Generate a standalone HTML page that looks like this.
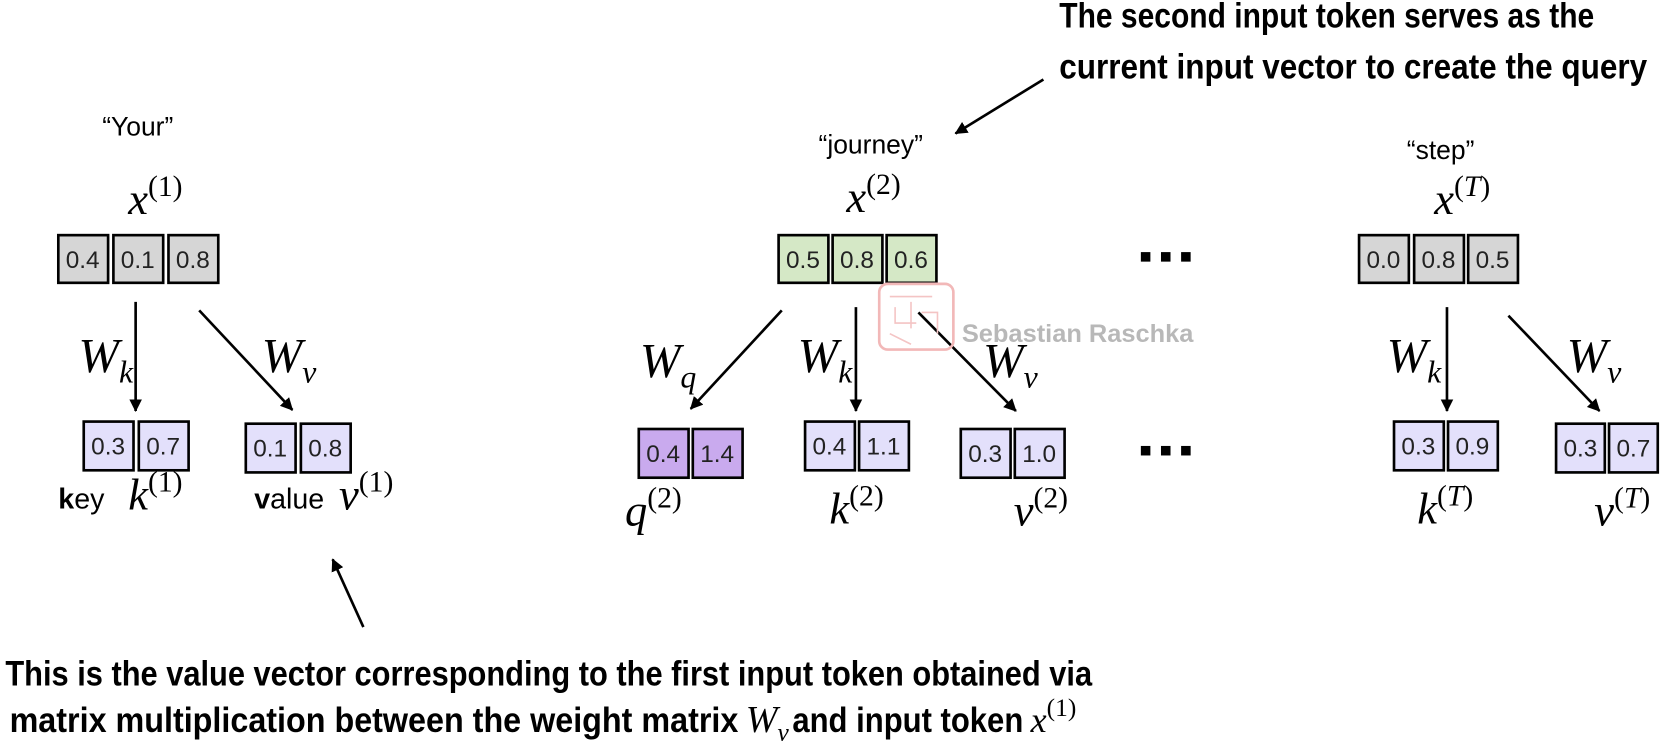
<!DOCTYPE html>
<html><head><meta charset="utf-8"><style>
html,body{margin:0;padding:0;background:#fff;width:1661px;height:751px;overflow:hidden}
svg{display:block}
.n{font-family:"Liberation Sans",sans-serif;font-size:23px;fill:#222;text-anchor:middle}
.m{font-family:"Liberation Serif",serif;font-style:italic;fill:#000}
.s{font-family:"Liberation Sans",sans-serif;font-size:25px;fill:#000;text-anchor:middle}
.b{font-family:"Liberation Sans",sans-serif;font-weight:bold;font-size:33px;fill:#000}
</style></head><body>
<svg width="1661" height="751" viewBox="0 0 1568 709" xmlns="http://www.w3.org/2000/svg">
<defs><marker id="a" markerWidth="12" markerHeight="12" refX="11" refY="6" orient="auto" markerUnits="userSpaceOnUse"><path d="M0,0 L12,6 L0,12 z" fill="#000"/></marker></defs>
<g stroke="#000" stroke-width="2.5">
<rect x="55" y="222" width="47" height="45" fill="#d6d6d6"/><rect x="107" y="222" width="47" height="45" fill="#d6d6d6"/><rect x="159" y="222" width="47" height="45" fill="#d6d6d6"/>
<rect x="735" y="222" width="47" height="45" fill="#d5e8c6"/><rect x="786" y="222" width="47" height="45" fill="#d5e8c6"/><rect x="837" y="222" width="47" height="45" fill="#d5e8c6"/>
<rect x="1283" y="222" width="47" height="45" fill="#d6d6d6"/><rect x="1335" y="222" width="47" height="45" fill="#d6d6d6"/><rect x="1386" y="222" width="47" height="45" fill="#d6d6d6"/>
<rect x="79" y="398" width="47" height="46" fill="#e3e0fb"/><rect x="131" y="398" width="47" height="46" fill="#e3e0fb"/>
<rect x="232" y="400" width="47" height="46" fill="#e3e0fb"/><rect x="284" y="400" width="47" height="46" fill="#e3e0fb"/>
<rect x="603" y="405" width="47" height="46" fill="#c9aaee"/><rect x="654" y="405" width="47" height="46" fill="#c9aaee"/>
<rect x="760" y="398" width="47" height="46" fill="#e3e0fb"/><rect x="811" y="398" width="47" height="46" fill="#e3e0fb"/>
<rect x="907" y="405" width="47" height="46" fill="#e3e0fb"/><rect x="958" y="405" width="47" height="46" fill="#e3e0fb"/>
<rect x="1316" y="398" width="47" height="46" fill="#e3e0fb"/><rect x="1367" y="398" width="47" height="46" fill="#e3e0fb"/>
<rect x="1469" y="400" width="46" height="46" fill="#e3e0fb"/><rect x="1519" y="400" width="46" height="46" fill="#e3e0fb"/>
<line x1="128" y1="285" x2="128" y2="388" marker-end="url(#a)"/>
<line x1="188" y1="293" x2="276" y2="387" marker-end="url(#a)"/>
<line x1="738" y1="293" x2="652" y2="386" marker-end="url(#a)"/>
<line x1="808" y1="290" x2="808" y2="388" marker-end="url(#a)"/>
<line x1="867" y1="295" x2="959" y2="388" marker-end="url(#a)"/>
<line x1="1366" y1="290" x2="1366" y2="388" marker-end="url(#a)"/>
<line x1="1424" y1="298" x2="1510" y2="388" marker-end="url(#a)"/>
<line x1="343" y1="592" x2="314" y2="528" marker-end="url(#a)"/>
<line x1="985" y1="75" x2="902" y2="126" marker-end="url(#a)"/>
</g>
<rect x="830" y="268" width="70" height="62" rx="8" fill="none" stroke="#f2b8b8" stroke-width="2.5"/>
<g stroke="#f4c4c4" stroke-width="1.5" fill="none"><path d="M840 280 h40 M845 290 v15 h20 M860 285 v25 M870 295 h15 v20 M840 315 l20 10"/></g>
<text x="908" y="323" font-family="Liberation Sans,sans-serif" font-weight="bold" font-size="24" fill="#b8b8b8">Sebastian Raschka</text>
<g class="n">
<text x="78" y="253">0.4</text><text x="130" y="253">0.1</text><text x="182" y="253">0.8</text>
<text x="758" y="253">0.5</text><text x="809" y="253">0.8</text><text x="860" y="253">0.6</text>
<text x="1306" y="253">0.0</text><text x="1358" y="253">0.8</text><text x="1409" y="253">0.5</text>
<text x="102" y="429">0.3</text><text x="154" y="429">0.7</text>
<text x="255" y="431">0.1</text><text x="307" y="431">0.8</text>
<text x="626" y="436">0.4</text><text x="677" y="436">1.4</text>
<text x="783" y="429">0.4</text><text x="834" y="429">1.1</text>
<text x="930" y="436">0.3</text><text x="981" y="436">1.0</text>
<text x="1339" y="429">0.3</text><text x="1390" y="429">0.9</text>
<text x="1492" y="431">0.3</text><text x="1542" y="431">0.7</text>
</g>
<g fill="#000"><rect x="1077" y="238" width="9" height="9"/><rect x="1096" y="238" width="9" height="9"/><rect x="1115" y="238" width="9" height="9"/>
<rect x="1077" y="421" width="9" height="9"/><rect x="1096" y="421" width="9" height="9"/><rect x="1115" y="421" width="9" height="9"/></g>
<text class="s" x="130" y="128">“Your”</text>
<text class="s" x="822" y="145">“journey”</text>
<text class="s" x="1360" y="150">“step”</text>
<g class="m" font-size="42">
<text x="121" y="202">x<tspan font-style="normal" font-size="28" dy="-17">(1)</tspan></text>
<text x="799" y="200">x<tspan font-style="normal" font-size="28" dy="-17">(2)</tspan></text>
<text x="1354" y="202">x<tspan font-size="28" dy="-17"><tspan font-style="normal">(</tspan>T<tspan font-style="normal">)</tspan></tspan></text>
<text x="74" y="351" font-size="46">W<tspan font-size="30" dy="10">k</tspan></text>
<text x="247" y="351" font-size="46">W<tspan font-size="30" dy="10">v</tspan></text>
<text x="604" y="356" font-size="46">W<tspan font-size="30" dy="10">q</tspan></text>
<text x="753" y="351" font-size="46">W<tspan font-size="30" dy="10">k</tspan></text>
<text x="928" y="356" font-size="46">W<tspan font-size="30" dy="10">v</tspan></text>
<text x="1309" y="351" font-size="46">W<tspan font-size="30" dy="10">k</tspan></text>
<text x="1479" y="351" font-size="46">W<tspan font-size="30" dy="10">v</tspan></text>
<text x="121" y="481">k<tspan font-style="normal" font-size="28" dy="-17">(1)</tspan></text>
<text x="320" y="481">v<tspan font-style="normal" font-size="28" dy="-17">(1)</tspan></text>
<text x="590" y="496">q<tspan font-style="normal" font-size="28" dy="-17">(2)</tspan></text>
<text x="783" y="494">k<tspan font-style="normal" font-size="28" dy="-17">(2)</tspan></text>
<text x="957" y="496">v<tspan font-style="normal" font-size="28" dy="-17">(2)</tspan></text>
<text x="1338" y="494">k<tspan font-size="28" dy="-17"><tspan font-style="normal">(</tspan>T<tspan font-style="normal">)</tspan></tspan></text>
<text x="1505" y="496">v<tspan font-size="28" dy="-17"><tspan font-style="normal">(</tspan>T<tspan font-style="normal">)</tspan></tspan></text>
</g>
<text x="55" y="480" font-family="Liberation Sans,sans-serif" font-size="27"><tspan font-weight="bold">k</tspan>ey</text>
<text x="240" y="480" font-family="Liberation Sans,sans-serif" font-size="27"><tspan font-weight="bold">v</tspan>alue</text>
<text class="b" x="1000" y="26" textLength="505" lengthAdjust="spacingAndGlyphs">The second input token serves as the</text>
<text class="b" x="1000" y="74" textLength="555" lengthAdjust="spacingAndGlyphs">current input vector to create the query</text>
<text class="b" x="5" y="647" textLength="1026" lengthAdjust="spacingAndGlyphs">This is the value vector corresponding to the first input token obtained via</text>
<text class="b" x="9" y="691" textLength="688" lengthAdjust="spacingAndGlyphs">matrix multiplication between the weight matrix</text>
<text class="m" x="704" y="691" font-size="36">W<tspan font-size="24" dy="8">v</tspan></text>
<text class="b" x="748" y="691" textLength="218" lengthAdjust="spacingAndGlyphs">and input token</text>
<text class="m" x="973" y="691" font-size="34">x<tspan font-style="normal" font-size="24" dy="-15">(1)</tspan></text>
</svg>
</body></html>
